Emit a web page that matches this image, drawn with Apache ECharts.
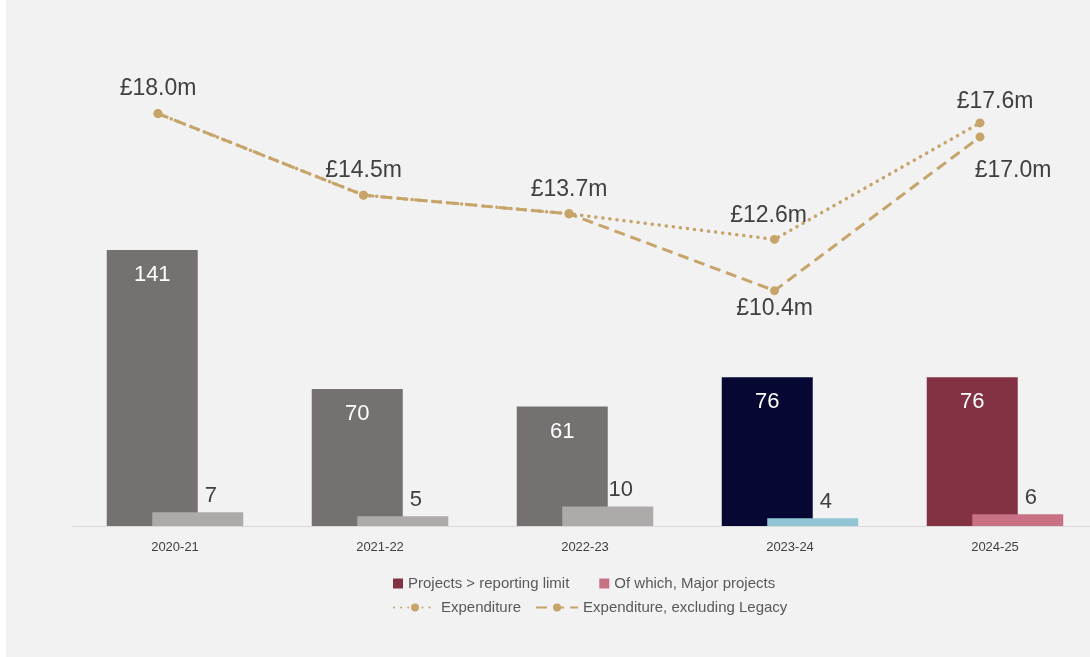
<!DOCTYPE html>
<html lang="en">

<head>
  <meta charset="UTF-8">
  <title>Projects and expenditure</title>
  <style>
    html, body { margin: 0; padding: 0; background: #fff; overflow: hidden; }
    .chart { position: absolute; left: 6px; top: 0; width: 1100px; height: 657px; background: #f2f2f2; }
  </style>
</head>

<body>
  <div class="chart"></div>
  <script src="https://cdn.jsdelivr.net/npm/echarts@6/dist/echarts.min.js"></script>
  <script>
    // data
    const years = ['2020-21', '2021-22', '2022-23', '2023-24', '2024-25'];
    const projects = [141, 70, 61, 76, 76];
    const majorProjects = [7, 5, 10, 4, 6];
    const expenditure = [18.0, 14.5, 13.7, 12.6, 17.6];
    const exclLegacy = [18.0, 14.5, 13.7, 10.4, 17.0];

    // colours per year
    const mainColours = ['#767171', '#767171', '#767171', '#060833', '#833243'];
    const minorColours = ['#aeaaaa', '#aeaaaa', '#aeaaaa', '#92c5d3', '#c87084'];
    const gold = '#c6a46a';
    const font = 'Liberation Sans';

    const fmt = v => '£' + v.toFixed(1) + 'm';

    // label tweaks for the line points
    const expLabelOffsets = [[0, 0], [0, 1], [0, 1], [-6, 1], [15, 4]];

    window.onload = function () {
      let chart = echarts.init(document.querySelector('.chart'));

      let option = {
        animation: false,
        textStyle: { fontFamily: font },
        grid: [
          { left: 66.5, right: 8.5, top: 60, bottom: 131 },
          { left: 49.25, right: 23.25, top: 60, bottom: 131 }
        ],
        legend: [
          {
            data: ['Projects > reporting limit', 'Of which, Major projects'],
            left: 382, top: 571,
            icon: 'rect', itemWidth: 10, itemHeight: 10, itemGap: 30,
            textStyle: { fontSize: 15, color: '#595959', fontFamily: font }
          },
          {
            data: ['Expenditure', 'Expenditure, excluding Legacy'],
            left: 382, top: 595,
            itemWidth: 42, itemHeight: 10, itemGap: 14,
            textStyle: { fontSize: 15, color: '#595959', fontFamily: font }
          }
        ],
        xAxis: [
          {
            type: 'category', gridIndex: 0, data: years,
            axisLine: { lineStyle: { color: '#d9d9d9', width: 1 } },
            axisTick: { show: false },
            axisLabel: { fontSize: 13, color: '#404040', margin: 15 }
          },
          {
            type: 'category', gridIndex: 1, data: years, show: false
          }
        ],
        yAxis: [
          { type: 'value', gridIndex: 0, min: 0, max: 238, show: false, splitLine: { show: false } },
          { type: 'value', gridIndex: 1, min: 0.3, max: 20.3, show: false, splitLine: { show: false } }
        ],
        series: [
          {
            name: 'Projects > reporting limit',
            type: 'bar',
            xAxisIndex: 0, yAxisIndex: 0,
            barWidth: 91,
            barGap: '-50%',
            itemStyle: { color: mainColours[4] },
            data: projects.map((v, i) => ({ value: v, itemStyle: { color: mainColours[i] } })),
            label: {
              show: true, position: 'insideTop', distance: 14,
              color: '#fff', fontSize: 22
            }
          },
          {
            name: 'Of which, Major projects',
            type: 'bar',
            xAxisIndex: 0, yAxisIndex: 0,
            barWidth: 91,
            itemStyle: { color: minorColours[4] },
            data: majorProjects.map((v, i) => ({ value: v, itemStyle: { color: minorColours[i] } })),
            label: {
              show: true, position: 'top', distance: 5, offset: [13, 0],
              color: '#404040', fontSize: 22
            }
          },
          {
            name: 'Expenditure, excluding Legacy',
            type: 'line',
            xAxisIndex: 1, yAxisIndex: 1,
            symbol: 'circle', symbolSize: 9,
            itemStyle: { color: gold },
            lineStyle: { color: gold, width: 3, type: [11, 6] },
            data: exclLegacy.map((v, i) => ({
              value: v,
              label: i === 3 ? { show: true, position: 'bottom', distance: 2 }
                : i === 4 ? { show: true, position: 'bottom', distance: 2, offset: [33, 16] }
                  : { show: false }
            })),
            label: { formatter: p => fmt(p.value), color: '#404040', fontSize: 23 },
            z: 3
          },
          {
            name: 'Expenditure',
            type: 'line',
            xAxisIndex: 1, yAxisIndex: 1,
            symbol: 'circle', symbolSize: 9,
            itemStyle: { color: gold },
            lineStyle: { color: gold, width: 3.5, type: [0.1, 7], cap: 'round' },
            data: expenditure.map((v, i) => ({
              value: v,
              label: { offset: expLabelOffsets[i] }
            })),
            label: {
              show: true, position: 'top', distance: 9,
              formatter: p => fmt(p.value), color: '#404040', fontSize: 23
            },
            z: 4
          }
        ]
      };
      chart.setOption(option);
    };
  </script>
</body>

</html>
